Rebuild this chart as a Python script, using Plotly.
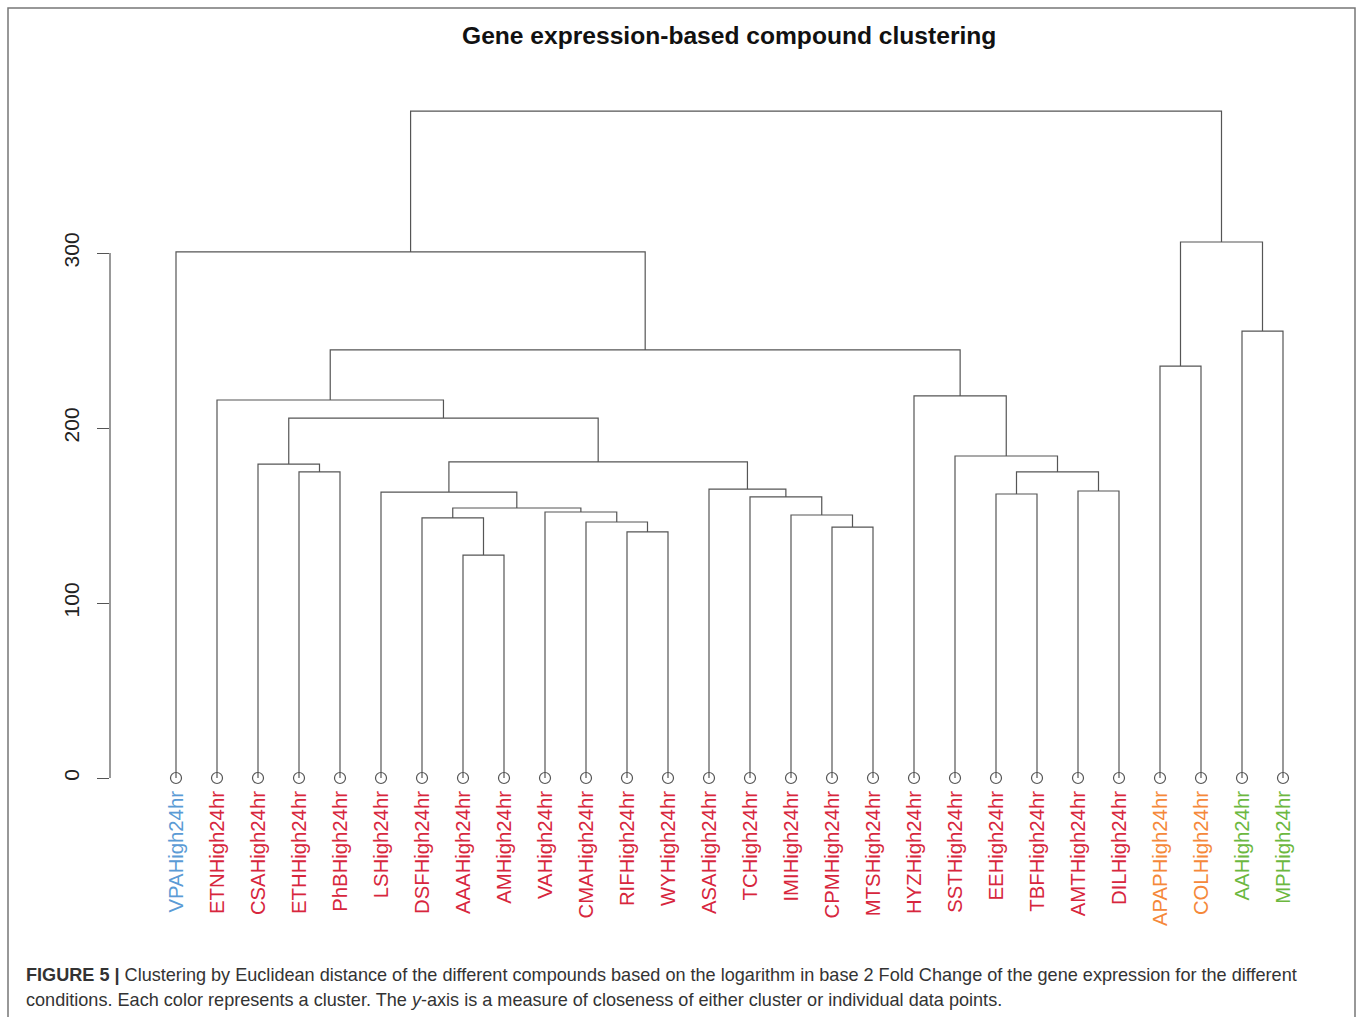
import plotly.graph_objects as go

# ---------------- data ----------------
leaf_labels = ["VPAHigh24hr", "ETNHigh24hr", "CSAHigh24hr", "ETHHigh24hr", "PhBHigh24hr",
               "LSHigh24hr", "DSFHigh24hr", "AAAHigh24hr", "AMHigh24hr", "VAHigh24hr",
               "CMAHigh24hr", "RIFHigh24hr", "WYHigh24hr", "ASAHigh24hr", "TCHigh24hr",
               "IMIHigh24hr", "CPMHigh24hr", "MTSHigh24hr", "HYZHigh24hr", "SSTHigh24hr",
               "EEHigh24hr", "TBFHigh24hr", "AMTHigh24hr", "DILHigh24hr", "APAPHigh24hr",
               "COLHigh24hr", "AAHigh24hr", "MPHigh24hr"]
leaf_cluster = [1] + [2] * 23 + [3, 3, 4, 4]
cluster_colors = {1: "#5b9bd5", 2: "#d7263d", 3: "#f5883a", 4: "#6cb83f"}

# hclust-style merge table: negative = leaf index (1-based), positive = earlier merge (1-based)
merge_left = [-8, -12, -17, -11, -7, -16, -10, 5, -15, -21, -6, -23, -14, -4,
              10, -3, 11, -20, 16, -2, -19, -25, 20, -27, -1, 22, 25]
merge_right = [-9, -13, -18, 2, 1, 3, 4, 7, 6, -22, 8, -24, 9, -5,
               12, 14, 13, 15, 17, 19, 18, -26, 21, -28, 23, 24, 26]
merge_height = [127.4, 140.6, 143.4, 146.3, 148.6, 150.3, 152.0, 154.3, 160.6, 162.3,
                163.4, 164.0, 165.1, 174.9, 174.9, 179.4, 180.6, 184.0, 205.7, 216.0,
                218.3, 235.4, 244.6, 255.4, 300.6, 306.3, 381.1]
y_ticks = [0, 100, 200, 300]

# ---------------- build dendrogram segments ----------------
leaf_x = list(range(len(leaf_labels)))
node_x, node_h = {}, {}

def pos(ref):
    if ref < 0:
        return leaf_x[-ref - 1], 0.0
    return node_x[ref], node_h[ref]

seg_x, seg_y = [], []
for k, (a, b, h) in enumerate(zip(merge_left, merge_right, merge_height), start=1):
    xa, ha = pos(a)
    xb, hb = pos(b)
    seg_x += [xa, xa, xb, xb, None]
    seg_y += [ha, h, h, hb, None]
    node_x[k] = (xa + xb) / 2
    node_h[k] = h

line_col = "#555555"
fig = go.Figure()
fig.add_trace(go.Scatter(x=seg_x, y=seg_y, mode="lines",
                         line=dict(color=line_col, width=1.2),
                         hoverinfo="skip", showlegend=False))
fig.add_trace(go.Scatter(x=leaf_x, y=[0] * len(leaf_x), mode="markers",
                         marker=dict(symbol="circle-open", size=11,
                                     color=line_col, line=dict(width=1.2)),
                         text=leaf_labels, showlegend=False))

# ---------------- layout ----------------
W, H = 1358, 1017
L, R, T, B = 110, 1300, 100, 786
font = "Liberation Sans, Arial, sans-serif"

def px(x):
    return (x - L) / (R - L)

def py(y):
    return (B - y) / (B - T)

ticktext = ['<span style="color:%s">%s</span>' % (cluster_colors[c], t)
            for t, c in zip(leaf_labels, leaf_cluster)]

fig.update_layout(
    width=W, height=H,
    margin=dict(l=L, r=W - R, t=T, b=H - B, pad=0),
    paper_bgcolor="white", plot_bgcolor="white",
    font=dict(family=font, color="#222"),
    xaxis=dict(range=[(L - 176) / 41, (R - 176) / 41], tickvals=leaf_x, ticktext=ticktext,
               tickangle=-90, ticks="", showline=False, showgrid=False, zeroline=False,
               tickfont=dict(size=20.3, family=font)),
    yaxis=dict(range=[-(B - 778) / 1.75, (778 - T) / 1.75], tickvals=y_ticks,
               ticks="outside", ticklen=12, tickcolor=line_col, tickwidth=1.2,
               tickangle=-90, showline=False, showgrid=False, zeroline=False,
               ticklabelstandoff=10,
               tickfont=dict(size=21, family=font, color="#222")),
    shapes=[
        dict(type="line", xref="paper", yref="y", x0=0, x1=0, y0=y_ticks[0], y1=y_ticks[-1],
             line=dict(color=line_col, width=1.2)),
        dict(type="rect", xref="paper", yref="paper", x0=px(8), x1=px(1355), y0=py(1030), y1=py(8),
             line=dict(color="#777", width=1.5)),
    ],
    annotations=[
        dict(xref="paper", yref="paper", x=px(729), y=py(36), xanchor="center", yanchor="middle",
             text="<b>Gene expression-based compound clustering</b>", showarrow=False,
             font=dict(size=24.6, family=font, color="#111")),
        dict(xref="paper", yref="paper", x=px(24), y=py(975), xanchor="left", yanchor="middle",
             text="<b>FIGURE 5 |</b> Clustering by Euclidean distance of the different compounds based on the logarithm in base 2 Fold Change of the gene expression for the different",
             showarrow=False, font=dict(size=18.1, family=font, color="#333")),
        dict(xref="paper", yref="paper", x=px(24), y=py(1000), xanchor="left", yanchor="middle",
             text="conditions. Each color represents a cluster. The <i>y</i>-axis is a measure of closeness of either cluster or individual data points.",
             showarrow=False, font=dict(size=18.1, family=font, color="#333")),
    ],
)

fig.write_html("out.html")
